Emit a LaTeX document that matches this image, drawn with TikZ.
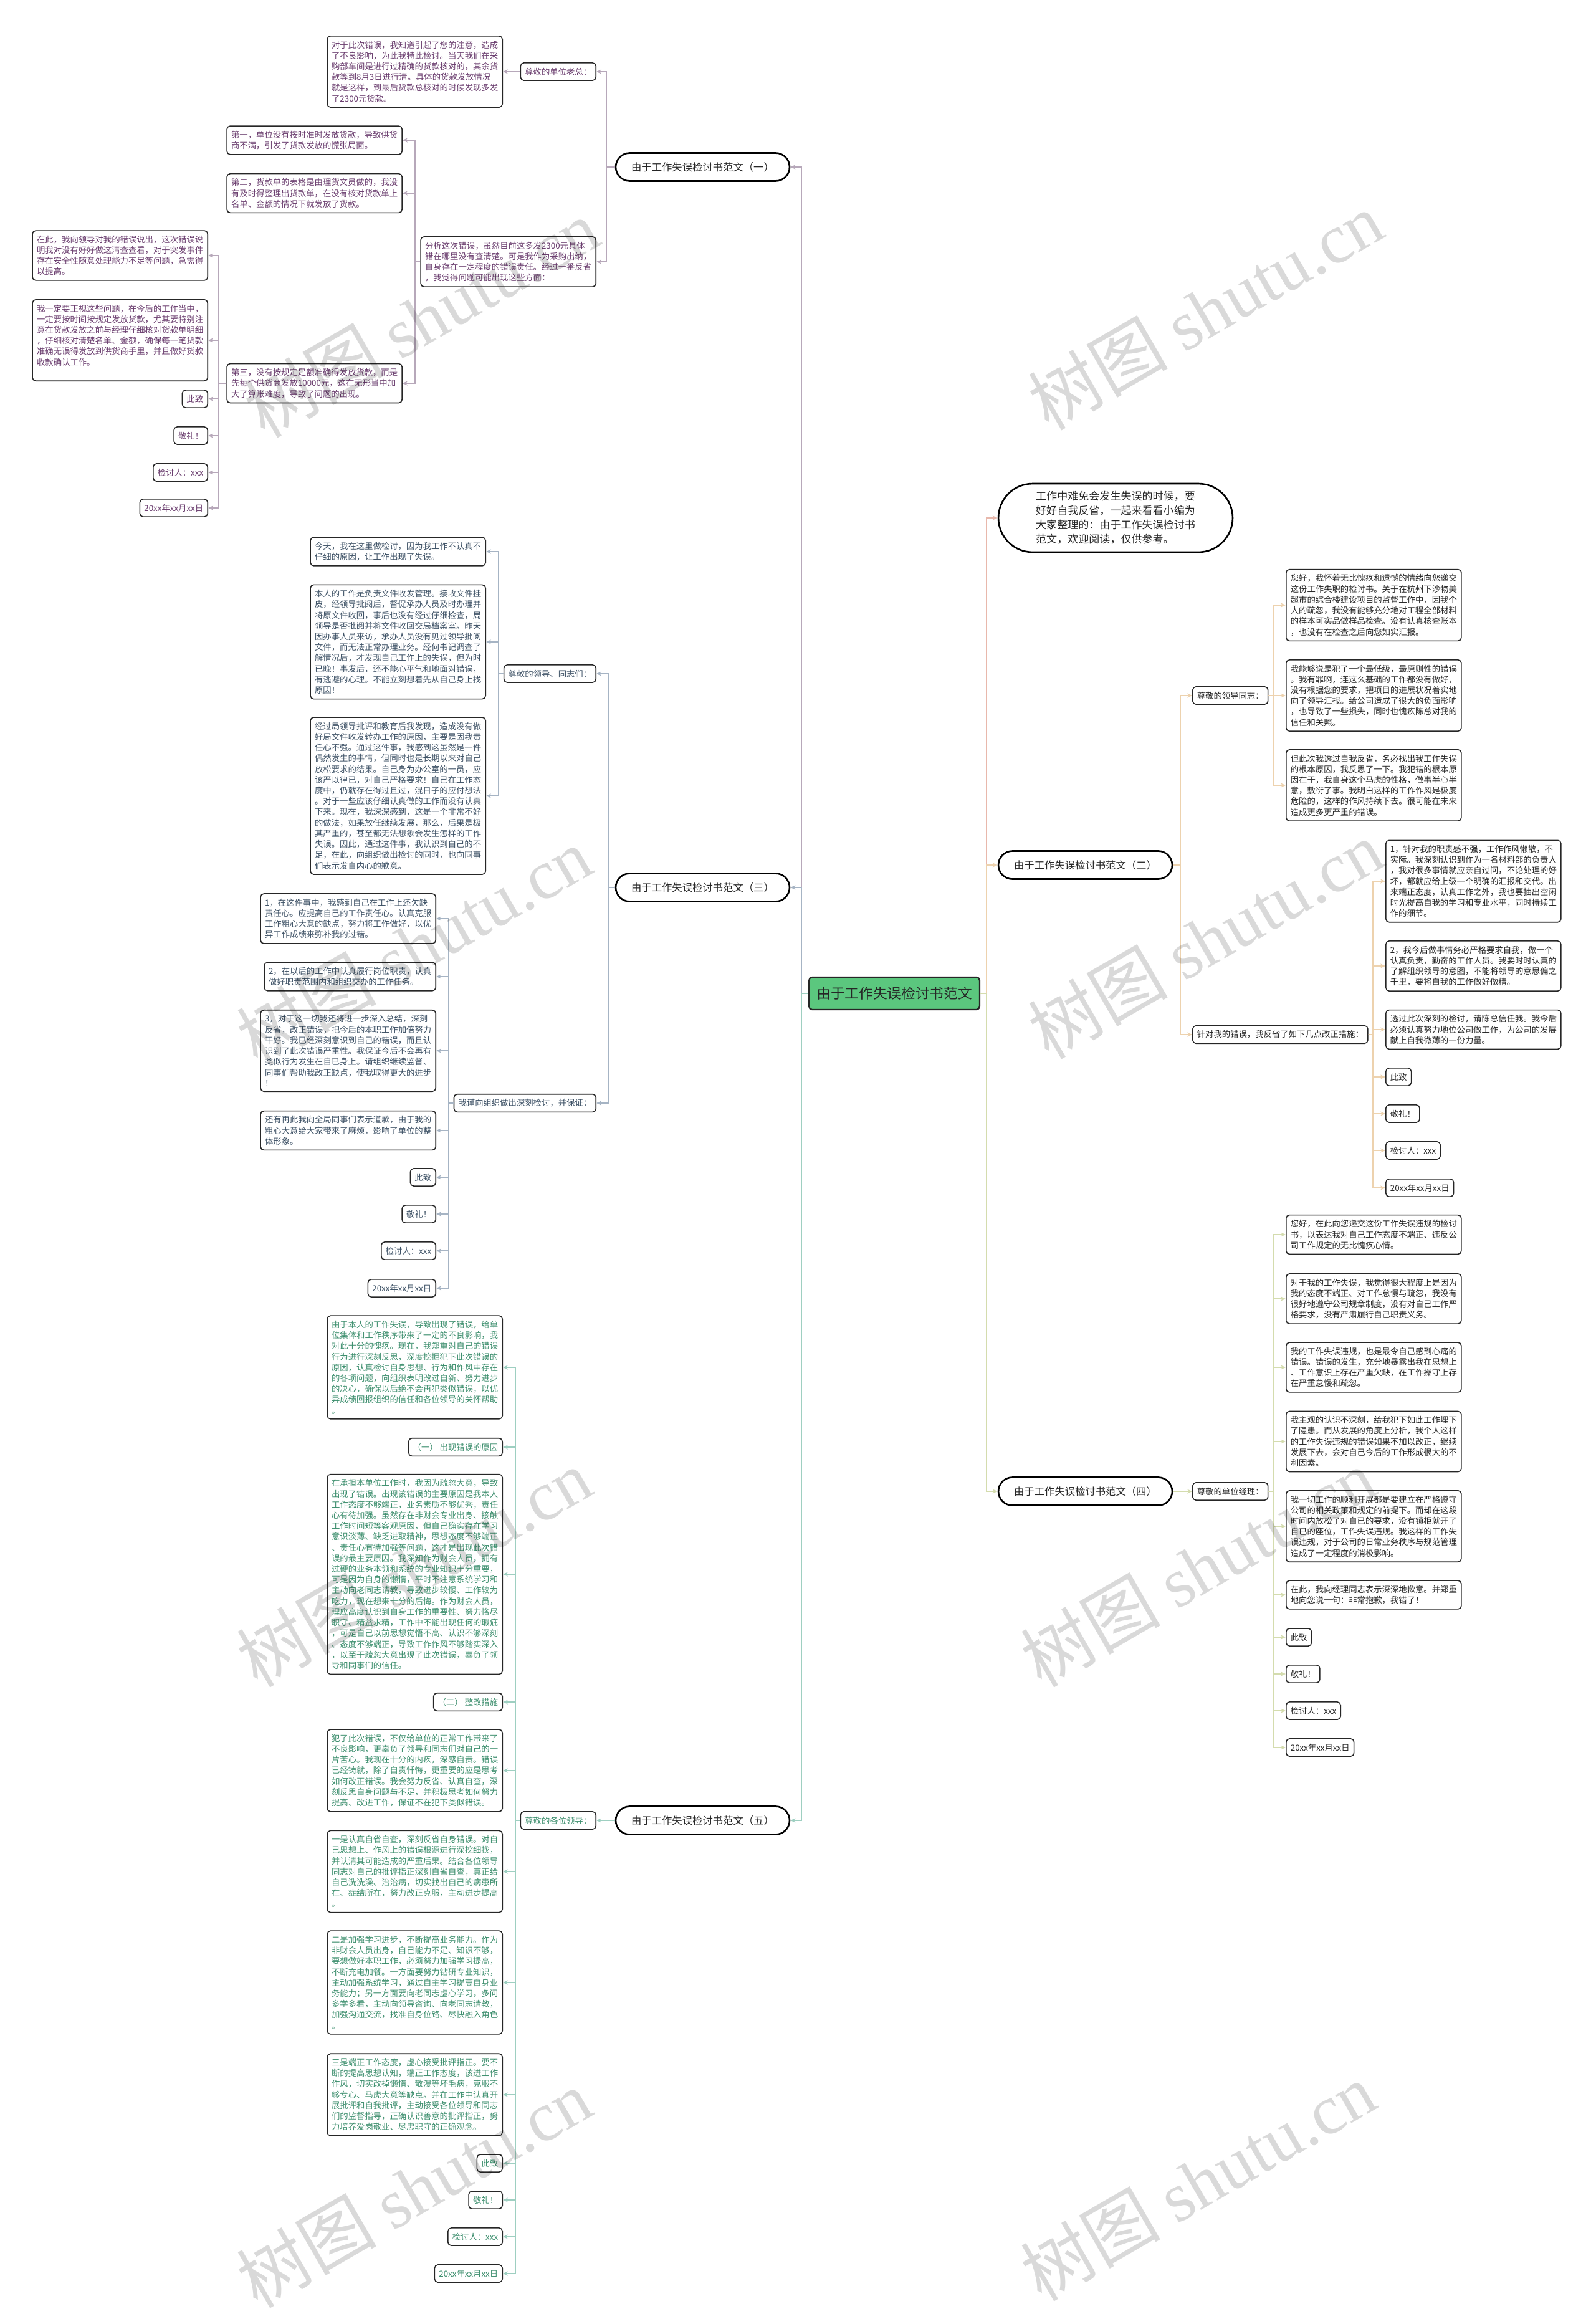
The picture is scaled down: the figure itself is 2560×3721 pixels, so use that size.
\documentclass[tikz,border=0pt]{standalone}
\usepackage{fontspec}
\setmainfont{Noto Sans CJK SC}
\newfontfamily\wmlatin{Liberation Serif}
\usetikzlibrary{arrows.meta}
\definecolor{cAline}{HTML}{B7A8BA}
\definecolor{cAtext}{HTML}{6B3E6F}
\definecolor{cCline}{HTML}{A6B4C4}
\definecolor{cCtext}{HTML}{3E5266}
\definecolor{cEline}{HTML}{9ECFC1}
\definecolor{cEtext}{HTML}{3D8F6E}
\definecolor{cBline}{HTML}{EDD2AE}
\definecolor{cDline}{HTML}{D4DCAE}
\definecolor{cIline}{HTML}{E8B8AC}
\definecolor{cDark}{HTML}{262626}
\definecolor{rootgreen}{HTML}{5BC77E}
\newcommand\myfsm{\fontsize{7.6pt}{9.8pt}\selectfont}
\newcommand\myL[4]{\draw[#1] (#2.west) -- (#2.west -| #3) |- (#4.east);}
\newcommand\myR[4]{\draw[#1] (#2.east) -- (#2.east -| #3) |- (#4.west);}
\tikzset{
  box/.style={draw=cDark, line width=0.9pt, rounded corners=3pt, fill=white, align=left, inner xsep=4pt, inner ysep=4.5pt, font=\myfsm},
  lbox/.style={box, anchor=east},
  rbox/.style={box, anchor=west},
  sA/.style={text=cAtext},
  sC/.style={text=cCtext},
  sE/.style={text=cEtext},
  sN/.style={text=cDark},
  branch/.style={draw=black, line width=1.5pt, fill=white, rounded corners=0.45cm, minimum width=5.58cm, minimum height=0.9cm, inner sep=0pt, font=\fontsize{9.3pt}{11pt}\selectfont, text=cDark},
  rootbox/.style={draw=black!85, line width=1.3pt, fill=rootgreen, rounded corners=3pt, minimum width=5.48cm, minimum height=1.04cm, inner sep=0pt, font=\fontsize{12.9pt}{15pt}\selectfont, text=cDark},
  introbox/.style={draw=black, line width=1.5pt, fill=white, rounded corners=1.1cm, minimum width=7.52cm, minimum height=2.2cm, align=left, inner sep=0pt, font=\fontsize{9.7pt}{13.1pt}\selectfont, text=cDark},
  conn/.style={line width=1.1pt, -{Stealth[length=4.5pt,width=4pt]}},
  kA/.style={conn, draw=cAline},
  kC/.style={conn, draw=cCline},
  kE/.style={conn, draw=cEline},
  kB/.style={conn, draw=cBline},
  kD/.style={conn, draw=cDline},
  kI/.style={conn, draw=cIline},
  wm/.style={rotate=30, text=black, opacity=0.15, font=\fontsize{64pt}{64pt}\selectfont}
}
\begin{document}
\begin{tikzpicture}[x=0.02cm,y=-0.02cm]
\useasboundingbox (0,0) rectangle (2560,3721);
\fill[white] (0,0) rectangle (2560,3721);

% trunk coordinates
\coordinate (T0L) at (1286,0);
\coordinate (T0R) at (1583,0);
\coordinate (T1) at (973,0);
\coordinate (T1a) at (822,0);
\coordinate (T1b) at (666,0);
\coordinate (T1c) at (351,0);
\coordinate (T3) at (977,0);
\coordinate (T3a) at (800,0);
\coordinate (T3b) at (720,0);
\coordinate (T5) at (977,0);
\coordinate (T5a) at (827,0);
\coordinate (T2) at (1894,0);
\coordinate (T2a) at (2044,0);
\coordinate (T2b) at (2203,0);
\coordinate (T4) at (1894,0);
\coordinate (T4a) at (2044,0);

% root and branches
\node[rootbox] (root) at (1435,1594) {由于工作失误检讨书范文};
\node[branch] (b1) at (1127.5,268) {由于工作失误检讨书范文（一）};
\node[branch] (b3) at (1127.5,1424) {由于工作失误检讨书范文（三）};
\node[branch] (b5) at (1127.5,2921) {由于工作失误检讨书范文（五）};
\node[introbox] (intro) at (1790,831) {工作中难免会发生失误的时候，要\\好好自我反省，一起来看看小编为\\大家整理的：由于工作失误检讨书\\范文，欢迎阅读，仅供参考。};
\node[branch] (b2) at (1741.5,1388) {由于工作失误检讨书范文（二）};
\node[branch] (b4) at (1741.5,2393) {由于工作失误检讨书范文（四）};

% ---------- section 1 ----------
\node[lbox,sA] (n1a) at (957,115) {尊敬的单位老总：};
\node[lbox,sA] (n1a1) at (807,115) {对于此次错误，我知道引起了您的注意，造成\\了不良影响，为此我特此检讨。当天我们在采\\购部车间是进行过精确的货款核对的，其余货\\款等到8月3日进行清。具体的货款发放情况\\就是这样，到最后货款总核对的时候发现多发\\了2300元货款。};
\node[lbox,sA] (n1b) at (957,420) {分析这次错误，虽然目前这多发2300元具体\\错在哪里没有查清楚。可是我作为采购出纳，\\自身存在一定程度的错误责任。经过一番反省\\，我觉得问题可能出现这些方面：};
\node[lbox,sA] (n1b1) at (646,225) {第一，单位没有按时准时发放货款，导致供货\\商不满，引发了货款发放的慌张局面。};
\node[lbox,sA] (n1b2) at (646,310) {第二，货款单的表格是由理货文员做的，我没\\有及时得整理出货款单，在没有核对货款单上\\名单、金额的情况下就发放了货款。};
\node[lbox,sA] (n1b3) at (646,615) {第三，没有按规定足额准确得发放货款，而是\\先每个供货商发放10000元，这在无形当中加\\大了算账难度，导致了问题的出现。};
\node[lbox,sA] (n1c1) at (334,410) {在此，我向领导对我的错误说出，这次错误说\\明我对没有好好做这清查查看，对于突发事件\\存在安全性随意处理能力不足等问题，急需得\\以提高。};
\node[lbox,sA] (n1c2) at (334,546) {我一定要正视这些问题，在今后的工作当中，\\一定要按时间按规定发放货款，尤其要特别注\\意在货款发放之前与经理仔细核对货款单明细\\，仔细核对清楚名单、金额，确保每一笔货款\\准确无误得发放到供货商手里，并且做好货款\\收款确认工作。\\ };
\node[lbox,sA] (n1c3) at (334,640) {此致};
\node[lbox,sA] (n1c4) at (334,699) {敬礼！};
\node[lbox,sA] (n1c5) at (334,758) {检讨人：xxx};
\node[lbox,sA] (n1c6) at (334,815) {20xx年xx月xx日};

% ---------- section 3 ----------
\node[lbox,sC] (n3a) at (957,1081) {尊敬的领导、同志们：};
\node[lbox,sC] (n3a1) at (780,885) {今天，我在这里做检讨，因为我工作不认真不\\仔细的原因，让工作出现了失误。};
\node[lbox,sC] (n3a2) at (780,1030) {本人的工作是负责文件收发管理。接收文件挂\\皮，经领导批阅后，督促承办人员及时办理并\\将原文件收回，事后也没有经过仔细检查，局\\领导是否批阅并将文件收回交局档案室。昨天\\因办事人员来访，承办人员没有见过领导批阅\\文件，而无法正常办理业务。经何书记调查了\\解情况后，才发现自己工作上的失误，但为时\\已晚！事发后，还不能心平气和地面对错误，\\有逃避的心理。不能立刻想着先从自己身上找\\原因！};
\node[lbox,sC] (n3a3) at (780,1277) {经过局领导批评和教育后我发现，造成没有做\\好局文件收发转办工作的原因，主要是因我责\\任心不强。通过这件事，我感到这虽然是一件\\偶然发生的事情，但同时也是长期以来对自己\\放松要求的结果。自己身为办公室的一员，应\\该严以律已，对自己严格要求！自己在工作态\\度中，仍就存在得过且过，混日子的应付想法\\。对于一些应该仔细认真做的工作而没有认真\\下来。现在，我深深感到，这是一个非常不好\\的做法，如果放任继续发展，那么，后果是极\\其严重的，甚至都无法想象会发生怎样的工作\\失误。因此，通过这件事，我认识到自己的不\\足，在此，向组织做出检讨的同时，也向同事\\们表示发自内心的歉意。};
\node[lbox,sC] (n3b) at (957,1770) {我谨向组织做出深刻检讨，并保证：};
\node[lbox,sC] (n3b1) at (700,1474) {1，在这件事中，我感到自己在工作上还欠缺\\责任心。应提高自己的工作责任心。认真克服\\工作粗心大意的缺点，努力将工作做好，以优\\异工作成绩来弥补我的过错。};
\node[lbox,sC] (n3b2) at (700,1567) {2，在以后的工作中认真履行岗位职责，认真\\做好职责范围内和组织交办的工作任务。};
\node[lbox,sC] (n3b3) at (700,1686) {3，对于这一切我还将进一步深入总结，深刻\\反省，改正错误，把今后的本职工作加倍努力\\干好。我已经深刻意识到自己的错误，而且认\\识到了此次错误严重性。我保证今后不会再有\\类似行为发生在自已身上。请组织继续监督、\\同事们帮助我改正缺点，使我取得更大的进步\\！};
\node[lbox,sC] (n3b4) at (700,1814) {还有再此我向全局同事们表示道歉，由于我的\\粗心大意给大家带来了麻烦，影响了单位的整\\体形象。};
\node[lbox,sC] (n3b5) at (700,1889) {此致};
\node[lbox,sC] (n3b6) at (700,1948) {敬礼！};
\node[lbox,sC] (n3b7) at (700,2007) {检讨人：xxx};
\node[lbox,sC] (n3b8) at (700,2067) {20xx年xx月xx日};

% ---------- section 5 ----------
\node[lbox,sE] (n5a) at (957,2921) {尊敬的各位领导：};
\node[lbox,sE] (n5a1) at (807,2194) {由于本人的工作失误，导致出现了错误，给单\\位集体和工作秩序带来了一定的不良影响，我\\对此十分的愧疚。现在，我郑重对自己的错误\\行为进行深刻反思，深度挖掘犯下此次错误的\\原因，认真检讨自身思想、行为和作风中存在\\的各项问题，向组织表明改过自新、努力进步\\的决心，确保以后绝不会再犯类似错误，以优\\异成绩回报组织的信任和各位领导的关怀帮助\\。};
\node[lbox,sE] (n5a2) at (807,2322) {（一） 出现错误的原因};
\node[lbox,sE] (n5a3) at (807,2526) {在承担本单位工作时，我因为疏忽大意，导致\\出现了错误。出现该错误的主要原因是我本人\\工作态度不够端正，业务素质不够优秀，责任\\心有待加强。虽然存在非财会专业出身、接触\\工作时间短等客观原因，但自己确实存在学习\\意识淡薄、缺乏进取精神，思想态度不够端正\\、责任心有待加强等问题，这才是出现此次错\\误的最主要原因。我深知作为财会人员，拥有\\过硬的业务本领和系统的专业知识十分重要，\\可是因为自身的懒惰，平时不注意系统学习和\\主动向老同志请教，导致进步较慢、工作较为\\吃力，现在想来十分的后悔。作为财会人员，\\理应高度认识到自身工作的重要性、努力恪尽\\职守、精益求精，工作中不能出现任何的瑕疵\\，可是自己以前思想觉悟不高、认识不够深刻\\、态度不够端正，导致工作作风不够踏实深入\\，以至于疏忽大意出现了此次错误，辜负了领\\导和同事们的信任。};
\node[lbox,sE] (n5a4) at (807,2731) {（二） 整改措施};
\node[lbox,sE] (n5a5) at (807,2841) {犯了此次错误，不仅给单位的正常工作带来了\\不良影响，更辜负了领导和同志们对自己的一\\片苦心。我现在十分的内疚，深感自责。错误\\已经铸就，除了自责忏悔，更重要的应是思考\\如何改正错误。我会努力反省、认真自查，深\\刻反思自身问题与不足，并积极思考如何努力\\提高、改进工作，保证不在犯下类似错误。};
\node[lbox,sE] (n5a6) at (807,3003) {一是认真自省自查，深刻反省自身错误。对自\\己思想上、作风上的错误根源进行深挖细找，\\并认清其可能造成的严重后果。结合各位领导\\同志对自己的批评指正深刻自省自查，真正给\\自己洗洗澡、治治病，切实找出自己的病患所\\在、症结所在，努力改正克服，主动进步提高\\。};
\node[lbox,sE] (n5a7) at (807,3181) {二是加强学习进步，不断提高业务能力。作为\\非财会人员出身，自己能力不足、知识不够，\\要想做好本职工作，必须努力加强学习提高，\\不断充电加餐。一方面要努力钻研专业知识，\\主动加强系统学习，通过自主学习提高自身业\\务能力；另一方面要向老同志虚心学习，多问\\多学多看，主动向领导咨询、向老同志请教，\\加强沟通交流，找准自身位臵、尽快融入角色\\。};
\node[lbox,sE] (n5a8) at (807,3361) {三是端正工作态度，虚心接受批评指正。要不\\断的提高思想认知，端正工作态度，该进工作\\作风，切实改掉懒惰、散漫等坏毛病，克服不\\够专心、马虎大意等缺点。并在工作中认真开\\展批评和自我批评，主动接受各位领导和同志\\们的监督指导，正确认识善意的批评指正，努\\力培养爱岗敬业、尽忠职守的正确观念。};
\node[lbox,sE] (n5a9) at (807,3471) {此致};
\node[lbox,sE] (n5a10) at (807,3530) {敬礼！};
\node[lbox,sE] (n5a11) at (807,3589) {检讨人：xxx};
\node[lbox,sE] (n5a12) at (807,3648) {20xx年xx月xx日};

% ---------- section 2 ----------
\node[rbox,sN] (n2a) at (1913,1116) {尊敬的领导同志：};
\node[rbox,sN] (n2a1) at (2063,971) {您好，我怀着无比愧疚和遗憾的情绪向您递交\\这份工作失职的检讨书。关于在杭州下沙物美\\超市的综合楼建设项目的监督工作中，因我个\\人的疏忽，我没有能够充分地对工程全部材料\\的样本可实品做样品检查。没有认真核查账本\\，也没有在检查之后向您如实汇报。};
\node[rbox,sN] (n2a2) at (2063,1116) {我能够说是犯了一个最低级，最原则性的错误\\。我有罪啊，连这么基础的工作都没有做好，\\没有根据您的要求，把项目的进展状况着实地\\向了领导汇报。给公司造成了很大的负面影响\\，也导致了一些损失，同时也愧疚陈总对我的\\信任和关照。};
\node[rbox,sN] (n2a3) at (2063,1260) {但此次我透过自我反省，务必找出我工作失误\\的根本原因，我反思了一下。我犯错的根本原\\因在于，我自身这个马虎的性格，做事半心半\\意，敷衍了事。我明白这样的工作作风是极度\\危险的，这样的作风持续下去。很可能在未来\\造成更多更严重的错误。};
\node[rbox,sN] (n2b) at (1913,1660) {针对我的错误，我反省了如下几点改正措施：};
\node[rbox,sN] (n2b1) at (2223,1414) {1，针对我的职责感不强，工作作风懒散，不\\实际。我深刻认识到作为一名材料部的负责人\\，我对很多事情就应亲自过问，不论处理的好\\坏，都就应给上级一个明确的汇报和交代。出\\来端正态度，认真工作之外，我也要抽出空闲\\时光提高自我的学习和专业水平，同时持续工\\作的细节。};
\node[rbox,sN] (n2b2) at (2223,1550) {2，我今后做事情务必严格要求自我，做一个\\认真负责，勤奋的工作人员。我要时时认真的\\了解组织领导的意图，不能将领导的意思偏之\\千里，要将自我的工作做好做精。};
\node[rbox,sN] (n2b3) at (2223,1652) {透过此次深刻的检讨，请陈总信任我。我今后\\必须认真努力地位公司做工作，为公司的发展\\献上自我微薄的一份力量。};
\node[rbox,sN] (n2b4) at (2223,1728) {此致};
\node[rbox,sN] (n2b5) at (2223,1787) {敬礼！};
\node[rbox,sN] (n2b6) at (2223,1846) {检讨人：xxx};
\node[rbox,sN] (n2b7) at (2223,1906) {20xx年xx月xx日};

% ---------- section 4 ----------
\node[rbox,sN] (n4a) at (1913,2393) {尊敬的单位经理：};
\node[rbox,sN] (n4a1) at (2063,1981) {您好，在此向您递交这份工作失误违规的检讨\\书，以表达我对自己工作态度不端正、违反公\\司工作规定的无比愧疚心情。};
\node[rbox,sN] (n4a2) at (2063,2084) {对于我的工作失误，我觉得很大程度上是因为\\我的态度不端正、对工作怠慢与疏忽，我没有\\很好地遵守公司规章制度，没有对自己工作严\\格要求，没有严肃履行自己职责义务。};
\node[rbox,sN] (n4a3) at (2063,2194) {我的工作失误违规，也是最令自己感到心痛的\\错误。错误的发生，充分地暴露出我在思想上\\、工作意识上存在严重欠缺，在工作操守上存\\在严重怠慢和疏忽。};
\node[rbox,sN] (n4a4) at (2063,2313) {我主观的认识不深刻，给我犯下如此工作埋下\\了隐患。而从发展的角度上分析，我个人这样\\的工作失误违规的错误如果不加以改正，继续\\发展下去，会对自己今后的工作形成很大的不\\利因素。};
\node[rbox,sN] (n4a5) at (2063,2449) {我一切工作的顺利开展都是要建立在严格遵守\\公司的相关政策和规定的前提下。而却在这段\\时间内放松了对自已的要求，没有锁柜就开了\\自已的座位，工作失误违规。我这样的工作失\\误违规，对于公司的日常业务秩序与规范管理\\造成了一定程度的消极影响。};
\node[rbox,sN] (n4a6) at (2063,2559) {在此，我向经理同志表示深深地歉意。并郑重\\地向您说一句：非常抱歉，我错了！};
\node[rbox,sN] (n4a7) at (2063,2627) {此致};
\node[rbox,sN] (n4a8) at (2063,2686) {敬礼！};
\node[rbox,sN] (n4a9) at (2063,2745) {检讨人：xxx};
\node[rbox,sN] (n4a10) at (2063,2804) {20xx年xx月xx日};

% ---------- connectors ----------
\myL{kA}{root}{T0L}{b1}
\myL{kC}{root}{T0L}{b3}
\myL{kE}{root}{T0L}{b5}
\myR{kI}{root}{T0R}{intro}
\myR{kB}{root}{T0R}{b2}
\myR{kD}{root}{T0R}{b4}

\myL{kA}{b1}{T1}{n1a}
\myL{kA}{b1}{T1}{n1b}
\myL{kA}{n1a}{T1a}{n1a1}
\myL{kA}{n1b}{T1b}{n1b1}
\myL{kA}{n1b}{T1b}{n1b2}
\myL{kA}{n1b}{T1b}{n1b3}
\foreach \c in {n1c1,n1c2,n1c3,n1c4,n1c5,n1c6}{\myL{kA}{n1b3}{T1c}{\c}}

\myL{kC}{b3}{T3}{n3a}
\myL{kC}{b3}{T3}{n3b}
\foreach \c in {n3a1,n3a2,n3a3}{\myL{kC}{n3a}{T3a}{\c}}
\foreach \c in {n3b1,n3b2,n3b3,n3b4,n3b5,n3b6,n3b7,n3b8}{\myL{kC}{n3b}{T3b}{\c}}

\myL{kE}{b5}{T5}{n5a}
\foreach \c in {n5a1,n5a2,n5a3,n5a4,n5a5,n5a6,n5a7,n5a8,n5a9,n5a10,n5a11,n5a12}{\myL{kE}{n5a}{T5a}{\c}}

\myR{kB}{b2}{T2}{n2a}
\myR{kB}{b2}{T2}{n2b}
\foreach \c in {n2a1,n2a2,n2a3}{\myR{kB}{n2a}{T2a}{\c}}
\foreach \c in {n2b1,n2b2,n2b3,n2b4,n2b5,n2b6,n2b7}{\myR{kB}{n2b}{T2b}{\c}}

\myR{kD}{b4}{T4}{n4a}
\foreach \c in {n4a1,n4a2,n4a3,n4a4,n4a5,n4a6,n4a7,n4a8,n4a9,n4a10}{\myR{kD}{n4a}{T4a}{\c}}

% ---------- watermark ----------
\foreach \i/\px/\py in {1/676/510, 2/1934/498, 3/664/1518, 4/1934/1507, 5/664/2515, 6/1922/2515, 7/664/3511, 8/1922/3500}{
  \node[wm] (wm\i) at (\px,\py) {树图 {\wmlatin shutu.cn}};
}
\end{tikzpicture}
\end{document}
